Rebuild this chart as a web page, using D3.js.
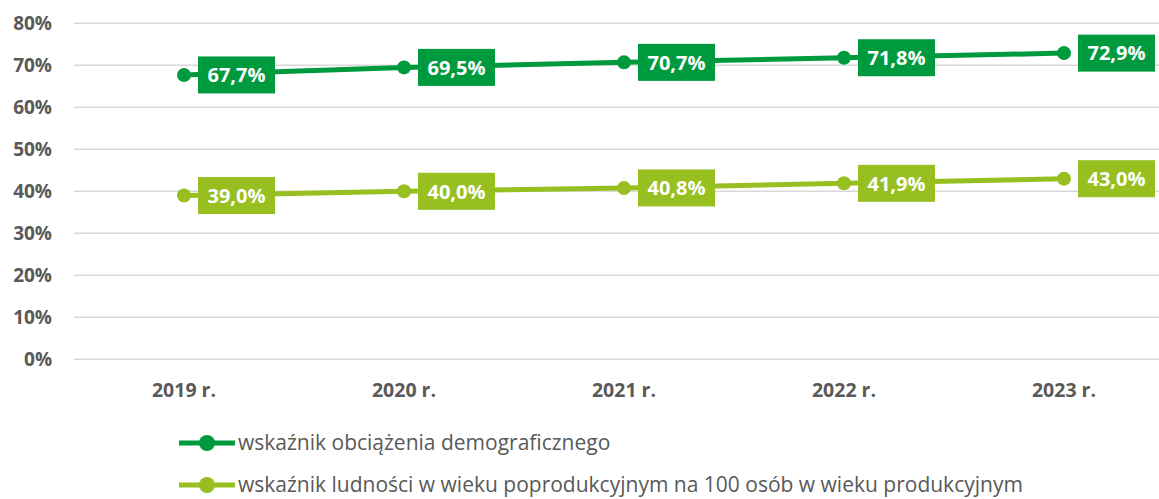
<!DOCTYPE html>
<html>
<head>
<meta charset="utf-8">
<script src="https://cdn.jsdelivr.net/npm/d3@7"></script>
<style>
  body { margin: 0; background: #fff; }
  svg { display: block; font-family: "Open Sans", sans-serif; }
</style>
</head>
<body>
<div id="chart"></div>
<script>
// data
var years = ["2019 r.", "2020 r.", "2021 r.", "2022 r.", "2023 r."];
var obciazenie = [67.7, 69.5, 70.7, 71.8, 72.9];
var poprodukcyjny = [39.0, 40.0, 40.8, 41.9, 43.0];
var yTicks = [0, 10, 20, 30, 40, 50, 60, 70, 80];
var seriesNames = [
  "wskaźnik obciążenia demograficznego",
  "wskaźnik ludności w wieku poprodukcyjnym na 100 osób w wieku produkcyjnym"
];

var W = 1159, H = 499;
var colors = ["#009a3e", "#97bf1f"];
var grey = "#595959";

var svg = d3.select("#chart").append("svg")
  .attr("width", W)
  .attr("height", H);

// scales
var x = d3.scaleBand().domain(years).range([74, 1174]);
var y = d3.scaleLinear().domain([0, 80]).range([359.3, 23.3]);

// gridlines
svg.append("g")
  .selectAll("line")
  .data(yTicks)
  .enter().append("line")
    .attr("x1", 74)
    .attr("x2", W)
    .attr("y1", function(d) { return y(d); })
    .attr("y2", function(d) { return y(d); })
    .attr("stroke", "#d9d9d9")
    .attr("stroke-width", 1.5);

// y axis labels
var yAxis = svg.append("g")
  .attr("transform", "translate(52,0)")
  .call(d3.axisLeft(y).tickValues(yTicks).tickSize(0).tickPadding(0)
    .tickFormat(function(d) { return d + "%"; }));
yAxis.select(".domain").remove();
yAxis.selectAll("text")
  .attr("fill", grey)
  .attr("dy", "0.34em")
  .style("font-size", "19px")
  .style("font-weight", "bold")
  .style("font-family", "'Open Sans', sans-serif");

// x axis labels
var xAxis = svg.append("g")
  .attr("transform", "translate(0,390)")
  .call(d3.axisBottom(x).tickSize(0).tickPadding(0));
xAxis.select(".domain").remove();
xAxis.selectAll("text")
  .attr("fill", grey)
  .attr("y", 0)
  .attr("dy", "0.34em")
  .style("font-size", "19.5px")
  .style("font-weight", "bold")
  .style("font-family", "'Open Sans', sans-serif");

var cx = function(d, i) { return x(years[i]) + x.bandwidth() / 2; };

var line = d3.line()
  .x(function(d, i) { return cx(d, i); })
  .y(function(d) { return y(d); });

var fmt = function(v) { return d3.format(".1f")(v).replace(".", ",") + "%"; };

[obciazenie, poprodukcyjny].forEach(function(series, s) {
  var g = svg.append("g");

  g.append("path")
    .datum(series)
    .attr("d", line)
    .attr("fill", "none")
    .attr("stroke", colors[s])
    .attr("stroke-width", 5);

  g.selectAll("circle")
    .data(series)
    .enter().append("circle")
      .attr("cx", cx)
      .attr("cy", function(d) { return y(d); })
      .attr("r", 7)
      .attr("fill", colors[s]);

  // data labels in boxes
  var lab = g.selectAll(".lab")
    .data(series)
    .enter().append("g")
      .attr("class", "lab")
      .attr("transform", function(d, i) {
        return "translate(" + (cx(d, i) + 14) + "," + y(d) + ")";
      });

  lab.append("rect")
    .attr("x", 0)
    .attr("y", -18.5)
    .attr("width", 77)
    .attr("height", 37)
    .attr("fill", colors[s]);

  lab.append("text")
    .attr("x", 38.5)
    .attr("y", 0)
    .attr("dy", "0.36em")
    .attr("text-anchor", "middle")
    .attr("fill", "#fff")
    .style("font-size", "20px")
    .style("font-weight", "bold")
    .text(fmt);
});

// legend
var legend = svg.append("g")
  .selectAll("g")
  .data(seriesNames)
  .enter().append("g")
    .attr("transform", function(d, i) { return "translate(0," + (443 + i * 42) + ")"; });

legend.append("line")
  .attr("x1", 179)
  .attr("x2", 235)
  .attr("stroke", function(d, i) { return colors[i]; })
  .attr("stroke-width", 5);

legend.append("circle")
  .attr("cx", 207)
  .attr("r", 8)
  .attr("fill", function(d, i) { return colors[i]; });

legend.append("text")
  .attr("x", 238)
  .attr("dy", "0.35em")
  .attr("fill", grey)
  .style("font-size", "21px")
  .text(function(d) { return d; });
</script>
</body>
</html>
